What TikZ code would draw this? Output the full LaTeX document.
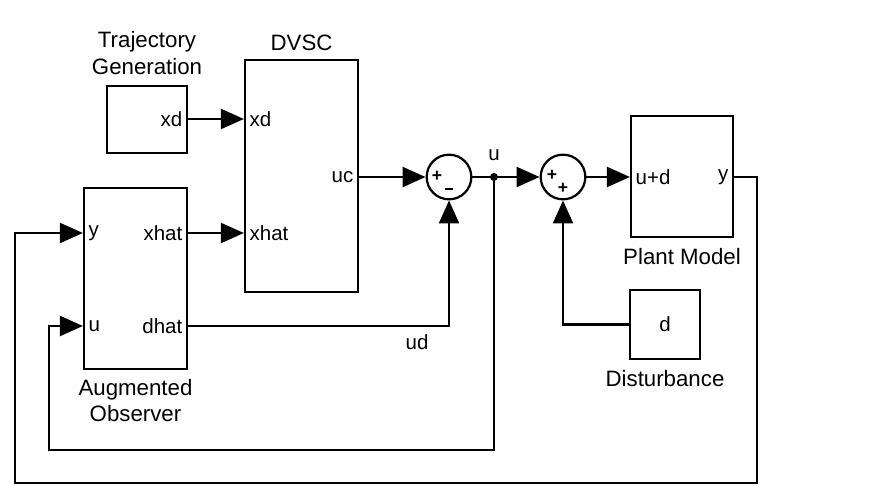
\documentclass[tikz,border=0pt]{standalone}
\usepackage{fontspec}
\setmainfont{Liberation Sans}
\usetikzlibrary{arrows.meta,positioning}

\begin{document}
\begin{tikzpicture}[
    x=0.03cm, y=-0.03cm,
    line width=1.9pt,
    block/.style={rectangle, draw, inner sep=0pt},
    sumnode/.style={circle, draw, minimum size=1.34cm, inner sep=0pt},
    arrow/.style={-{Triangle[length=6.9mm, width=6mm]}},
    port/.style={font=\fontsize{17.5}{20}\selectfont, inner sep=4pt},
    caption/.style={font=\fontsize{19}{22.5}\selectfont, align=center, inner sep=0pt},
    sign/.style={font=\fontsize{15}{15}\selectfont\bfseries, inner sep=0pt}
]
    \useasboundingbox (0,0) rectangle (875,486);

    % Blocks
    \node[block, minimum width=2.4cm, minimum height=2.01cm] (traj) at (147,119.5) {};
    \node[block, minimum width=3.39cm, minimum height=6.96cm] (dvsc) at (301.5,176) {};
    \node[block, minimum width=3.09cm, minimum height=5.43cm] (obs) at (135.5,278.5) {};
    \node[block, minimum width=3.06cm, minimum height=3.63cm] (plant) at (682,176.5) {};
    \node[block, minimum width=2.1cm, minimum height=2.07cm] (dist) at (665,324.5) {};
    \node[sumnode] (sum1) at (449,177) {};
    \node[sumnode] (sum2) at (563,177) {};
    \fill (494,177) circle (4) coordinate (junc);

    % Block titles
    \node[caption, above=8pt of traj] (trajlbl) {Trajectory\\Generation};
    \node[caption, above=6pt of dvsc] (dvsclbl) {DVSC};
    \node[caption, below=7pt of obs] (obslbl) {Augmented\\Observer};
    \node[caption, below=8pt of plant] (plantlbl) {Plant Model};
    \node[caption, below=8pt of dist] (distlbl) {Disturbance};

    % Port points
    \coordinate (trajxd) at (traj.east |- 0,119);
    \coordinate (dvscxd) at (dvsc.west |- 0,119);
    \coordinate (dvscxhat) at (dvsc.west |- 0,233);
    \coordinate (dvscuc) at (dvsc.east |- 0,177);
    \coordinate (obsy) at (obs.west |- 0,233);
    \coordinate (obsu) at (obs.west |- 0,326);
    \coordinate (obsxhat) at (obs.east |- 0,233);
    \coordinate (obsdhat) at (obs.east |- 0,326);
    \coordinate (plantin) at (plant.west |- 0,177);
    \coordinate (planty) at (plant.east |- 0,177);

    % Port labels
    \node[port, anchor=east] (ptrajxd) at (trajxd) {xd};
    \node[port, anchor=west] (pdvscxd) at (dvscxd) {xd};
    \node[port, anchor=west] (pdvscxhat) at (dvscxhat) {xhat};
    \node[port, anchor=east] (pdvscuc) at (dvscuc) {uc};
    \node[port, anchor=west] (pobsy) at (obsy) {y};
    \node[port, anchor=west] (pobsu) at (obsu) {u};
    \node[port, anchor=east] (pobsxhat) at (obsxhat) {xhat};
    \node[port, anchor=east] (pobsdhat) at (obsdhat) {dhat};
    \node[port, anchor=west] (pplantin) at (plantin) {u+d};
    \node[port, anchor=east] (pplanty) at (planty) {y};
    \node[port] (pdist) at (dist) {d};

    % Sum signs
    \node[sign] (s1a) at (437,176) {+};
    \node[sign] (s1b) at (449,189) {\rule{7pt}{1.8pt}};
    \node[sign] (s2a) at (552,175) {+};
    \node[sign] (s2b) at (563,188) {+};

    % Signal labels
    \node[port] (ulbl) at (494,155) {u};
    \node[port] (udlbl) at (417,342) {ud};

    % Forward path
    \draw[arrow] (trajxd) -- (dvscxd);
    \draw[arrow] (obsxhat) -- (dvscxhat);
    \draw[arrow] (dvscuc) -- (sum1.west);
    \draw (sum1.east) -- (junc);
    \draw[arrow] (junc) -- (sum2.west);
    \draw[arrow] (sum2.east) -- (plantin);

    % Disturbance paths
    \draw[arrow] (obsdhat) -| (sum1.south);
    \draw[arrow] (dist.west) -| (sum2.south);

    % Feedback loops
    \draw[arrow] (junc) |- (49,450) |- (obsu);
    \draw[arrow] (planty) -- (757,177) |- (15,483) |- (obsy);
\end{tikzpicture}
\end{document}
